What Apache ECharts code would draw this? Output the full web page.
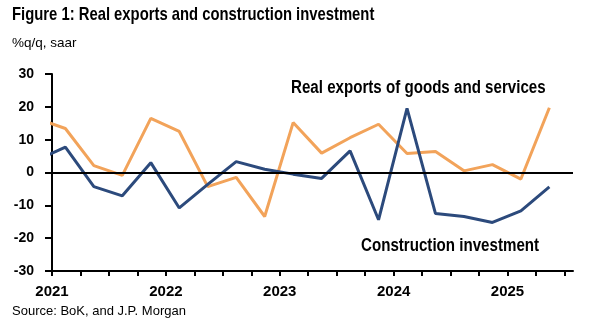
<!DOCTYPE html>
<html>
<head>
<meta charset="utf-8">
<script src="https://cdn.jsdelivr.net/npm/echarts@6/dist/echarts.min.js"></script>
<style>html,body{margin:0;padding:0;background:#fff}#c{width:600px;height:329px}</style>
</head>
<body>
<div id="c"></div>
<script>
// Quarterly data (%q/q, saar)
var quarters = ['2020Q4','2021Q1','2021Q2','2021Q3','2021Q4','2022Q1','2022Q2','2022Q3','2022Q4','2023Q1','2023Q2','2023Q3','2023Q4','2024Q1','2024Q2','2024Q3','2024Q4','2025Q1','2025Q2'];
var exportsGrowth = [16.4, 13.4, 2.1, -0.9, 16.5, 12.5, -4.3, -1.5, -13.4, 15.2, 5.9, 10.6, 14.7, 5.8, 6.4, 0.5, 2.4, -2.0, 19.7];
var constructionGrowth = [3.8, 7.7, -4.3, -7.1, 3.0, -10.8, -3.6, 3.3, 1.0, -0.5, -1.8, 6.6, -14.4, 19.5, -12.5, -13.4, -15.2, -11.7, -4.4];
var yearLabels = ['2021','2022','2023','2024','2025'];
var yTicks = [-30, -20, -10, 0, 10, 20, 30];

var baseYear = 2021;
function qPos(q) { // quarters since 2021Q1, plotted mid-quarter
  var y = parseInt(q.slice(0,4),10), n = parseInt(q.slice(5),10);
  return (y - baseYear) * 4 + (n - 1) + 0.47;
}
function pairs(vals) { return quarters.map(function(q,i){ return [qPos(q), vals[i]]; }); }

var ARIAL = '"Liberation Sans", Arial, sans-serif';
var tickVals = []; for (var t = 0; t <= 18; t++) tickVals.push(t);

function narrowText(text, x, y, size, sx) {
  return {type: 'text', x: x, y: y, scaleX: sx, scaleY: 1, originX: 0, originY: 0,
    style: {text: text, font: 'bold ' + size + 'px ' + ARIAL, fill: '#000', textVerticalAlign: 'top', verticalAlign: 'top'}};
}

var chart = echarts.init(document.getElementById('c'), null, {renderer: 'canvas'});
chart.setOption({
  animation: false,
  backgroundColor: '#fff',
  grid: {left: 52, right: 27, top: 74, bottom: 58, containLabel: false},
  graphic: [
    narrowText('Figure 1: Real exports and construction investment', 12, 5, 19, 0.78),
    {type: 'text', x: 12, y: 36, style: {text: '%q/q, saar', font: '13.5px ' + ARIAL, fill: '#000', verticalAlign: 'top'}},
    narrowText('Real exports of goods and services', 291, 79, 18, 0.84),
    narrowText('Construction investment', 361, 237, 18, 0.84),
    {type: 'text', x: 12, y: 305, style: {text: 'Source: BoK, and J.P. Morgan', font: '13px ' + ARIAL, fill: '#000', verticalAlign: 'top'}}
  ],
  xAxis: {
    type: 'value', min: 0, max: 18.3,
    axisLine: {show: true, onZero: false, lineStyle: {color: '#000', width: 2}},
    axisTick: {show: true, inside: false, length: 5, lineStyle: {color: '#000', width: 2}, customValues: tickVals},
    axisLabel: {
      customValues: [0, 4, 8, 12, 16], margin: 13,
      formatter: function(v){ return yearLabels[Math.round(v/4)]; },
      fontFamily: ARIAL, fontSize: 15, fontWeight: 'bold', color: '#000'
    },
    splitLine: {show: false}
  },
  yAxis: {
    type: 'value', min: -30, max: 30, interval: 10,
    axisLine: {show: true, lineStyle: {color: '#000', width: 2}},
    axisTick: {show: true, length: 7, lineStyle: {color: '#000', width: 2}},
    axisLabel: {margin: 18, fontFamily: ARIAL, fontSize: 14, fontWeight: 'bold', color: '#000',
      formatter: function(v){ return yTicks.indexOf(v) >= 0 ? String(v) : ''; }},
    splitLine: {show: false}
  },
  series: [
    {
      name: 'Real exports of goods and services', type: 'line', data: pairs(exportsGrowth),
      showSymbol: false, symbol: 'none', clip: true,
      lineStyle: {color: '#F2A35A', width: 3}, z: 3
    },
    {
      name: 'Construction investment', type: 'line', data: pairs(constructionGrowth),
      showSymbol: false, symbol: 'none', clip: true,
      lineStyle: {color: '#2C4A7C', width: 3}, z: 4,
      markLine: {silent: true, symbol: ['none','none'], label: {show: false},
        lineStyle: {color: '#000', width: 2, type: 'solid'}, data: [{yAxis: 0}], z: 5}
    }
  ]
});
</script>
</body>
</html>
